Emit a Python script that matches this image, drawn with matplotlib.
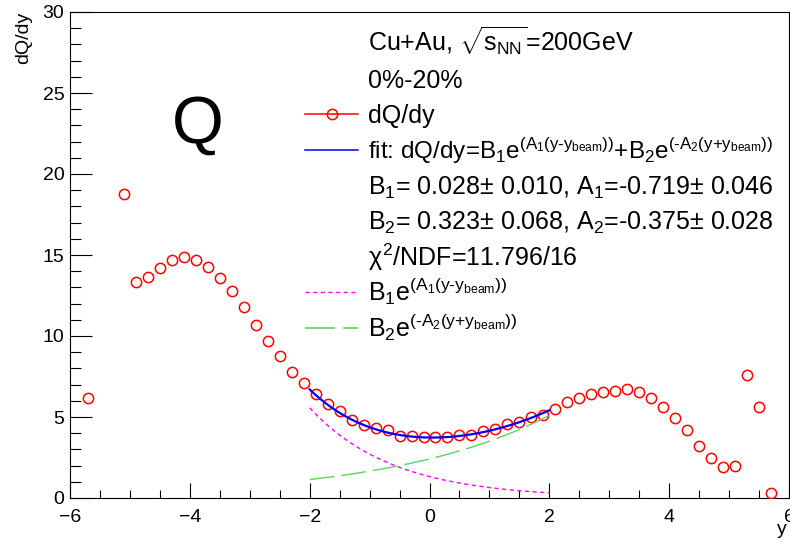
import numpy as np
import matplotlib
matplotlib.use("Agg")
import matplotlib.pyplot as plt
from matplotlib.ticker import MultipleLocator
from matplotlib.lines import Line2D

plt.rcParams['font.family'] = ['Liberation Sans', 'DejaVu Sans']
plt.rcParams['mathtext.fontset'] = 'custom'
plt.rcParams['mathtext.rm'] = 'Liberation Sans'
plt.rcParams['mathtext.it'] = 'Liberation Sans'
plt.rcParams['mathtext.bf'] = 'Liberation Sans:bold'

# rapidity bin centres and charge density dQ/dy
rapidity = [-5.7, -5.1, -4.9, -4.7, -4.5, -4.3, -4.1, -3.9, -3.7, -3.5,
            -3.3, -3.1, -2.9, -2.7, -2.5, -2.3, -2.1, -1.9, -1.7, -1.5,
            -1.3, -1.1, -0.9, -0.7, -0.5, -0.3, -0.1, 0.1, 0.3, 0.5,
            0.7, 0.9, 1.1, 1.3, 1.5, 1.7, 1.9, 2.1, 2.3, 2.5,
            2.7, 2.9, 3.1, 3.3, 3.5, 3.7, 3.9, 4.1, 4.3, 4.5,
            4.7, 4.9, 5.1, 5.3, 5.5, 5.7]
dQdy = [6.15, 18.75, 13.35, 13.66, 14.22, 14.69, 14.86, 14.69, 14.28, 13.60,
        12.80, 11.77, 10.68, 9.71, 8.77, 7.76, 7.08, 6.40, 5.78, 5.39,
        4.81, 4.51, 4.30, 4.20, 3.85, 3.83, 3.75, 3.79, 3.79, 3.91,
        3.89, 4.16, 4.24, 4.55, 4.71, 5.02, 5.12, 5.50, 5.95, 6.15,
        6.40, 6.56, 6.63, 6.71, 6.56, 6.15, 5.60, 4.96, 4.20, 3.23,
        2.45, 1.90, 1.98, 7.59, 5.64, 0.33]

# fit parameters
B1, B1_err = 0.028, 0.010
A1, A1_err = -0.719, 0.046
B2, B2_err = 0.323, 0.068
A2, A2_err = -0.375, 0.028
chi2, ndf = 11.796, 16
y_beam = 5.36
fit_range = (-2.0, 2.0)

W, H, DPI = 790, 542, 100
fig = plt.figure(figsize=(W / DPI, H / DPI), dpi=DPI)
# axes frame in pixels: left 70, right 789, top 12, bottom 498
ax = fig.add_axes([70 / W, (H - 498) / H, (789 - 70) / W, (498 - 12) / H])

ax.plot(rapidity, dQdy, 'o', ms=7.4, mfc='none', mec='#ff0000', mew=1.1,
        linestyle='none', zorder=3)

yy = np.linspace(fit_range[0], fit_range[1], 200)
comp1 = B1 * np.exp(A1 * (yy - y_beam))
comp2 = B2 * np.exp(-A2 * (yy + y_beam))
ax.plot(yy, comp1 + comp2, color='#0000ff', lw=1.6, zorder=4)
ax.plot(yy, comp1, color='#ff00ff', lw=1.0, dashes=(3, 2.5), zorder=4)
ax.plot(yy, comp2, color='#5fd35f', lw=1.0, dashes=(18, 5), zorder=4)

ax.set_xlim(-6, 6)
ax.set_ylim(0, 30)
ax.xaxis.set_major_locator(MultipleLocator(2))
ax.xaxis.set_minor_locator(MultipleLocator(0.5))
ax.yaxis.set_major_locator(MultipleLocator(5))
ax.yaxis.set_minor_locator(MultipleLocator(1))
ax.tick_params(axis='both', which='both', direction='in', top=False, right=False,
               labelsize=14, width=0.8, color='black')
ax.tick_params(axis='x', which='major', length=10.8, pad=8)
ax.tick_params(axis='x', which='minor', length=5.8)
ax.tick_params(axis='y', which='major', length=15.8, pad=4)
ax.tick_params(axis='y', which='minor', length=8.0)
for s in ax.spines.values():
    s.set_linewidth(0.8)

ax.set_ylabel('dQ/dy', fontsize=14, loc='top')
ax.yaxis.set_label_coords(-0.052, 1.0)
ax.set_xlabel('y', fontsize=14, loc='right', va='baseline')
ax.xaxis.set_label_coords(0.997, -0.074)

ax.text(172, H - 143, 'Q', fontsize=48, transform=None, va='baseline', ha='left')

# legend block
fs = 18
term1 = r'(A_{1}(y\text{-}y_{beam}))'
term2 = r'(\text{-}A_{2}(y{+}y_{beam}))'
rows = [
    (r'Cu+Au, $\sqrt{s_{NN}}$=200GeV', None, fs),
    ('0%-20%', None, fs),
    ('dQ/dy', 'data', fs),
    (r'fit: dQ/dy=B$_{1}$e$^{%s}$+B$_{2}$e$^{%s}$' % (term1, term2), 'fit', 17.5),
    (r'B$_{1}$= %.3f$\pm$ %.3f, A$_{1}$=%.3f$\pm$ %.3f' % (B1, B1_err, A1, A1_err), None, fs),
    (r'B$_{2}$= %.3f$\pm$ %.3f, A$_{2}$=%.3f$\pm$ %.3f' % (B2, B2_err, A2, A2_err), None, fs),
    (r'$\chi^{2}$/NDF=%.3f/%d' % (chi2, ndf), None, fs),
    (r'B$_{1}$e$^{%s}$' % term1, 'c1', fs),
    (r'B$_{2}$e$^{%s}$' % term2, 'c2', fs),
]
key_styles = {
    'data': dict(color='#ff0000', lw=1.1, marker='o', ms=7.4, mfc='none',
                 mec='#ff0000', mew=1.1, markevery=[1]),
    'fit': dict(color='#0000ff', lw=1.1),
    'c1': dict(color='#ff00ff', lw=1.0, dashes=(3, 2.5)),
    'c2': dict(color='#5fd35f', lw=1.2, dashes=(18, 5)),
}
row0, step = 43.0, 35.6
text_x, key_x0, key_x1 = 368, 305, 358
for i, (label, key, size) in enumerate(rows):
    yc = row0 + i * step
    fig.text(text_x / W, 1 - (yc + 9) / H, label, fontsize=size, va='baseline', ha='left')
    if key is not None:
        xs = [key_x0 / W, (key_x0 + key_x1) / 2 / W, key_x1 / W]
        ys = [1 - yc / H] * 3
        fig.add_artist(Line2D(xs, ys, transform=fig.transFigure, **key_styles[key]))

fig.savefig('out.png', dpi=DPI)
